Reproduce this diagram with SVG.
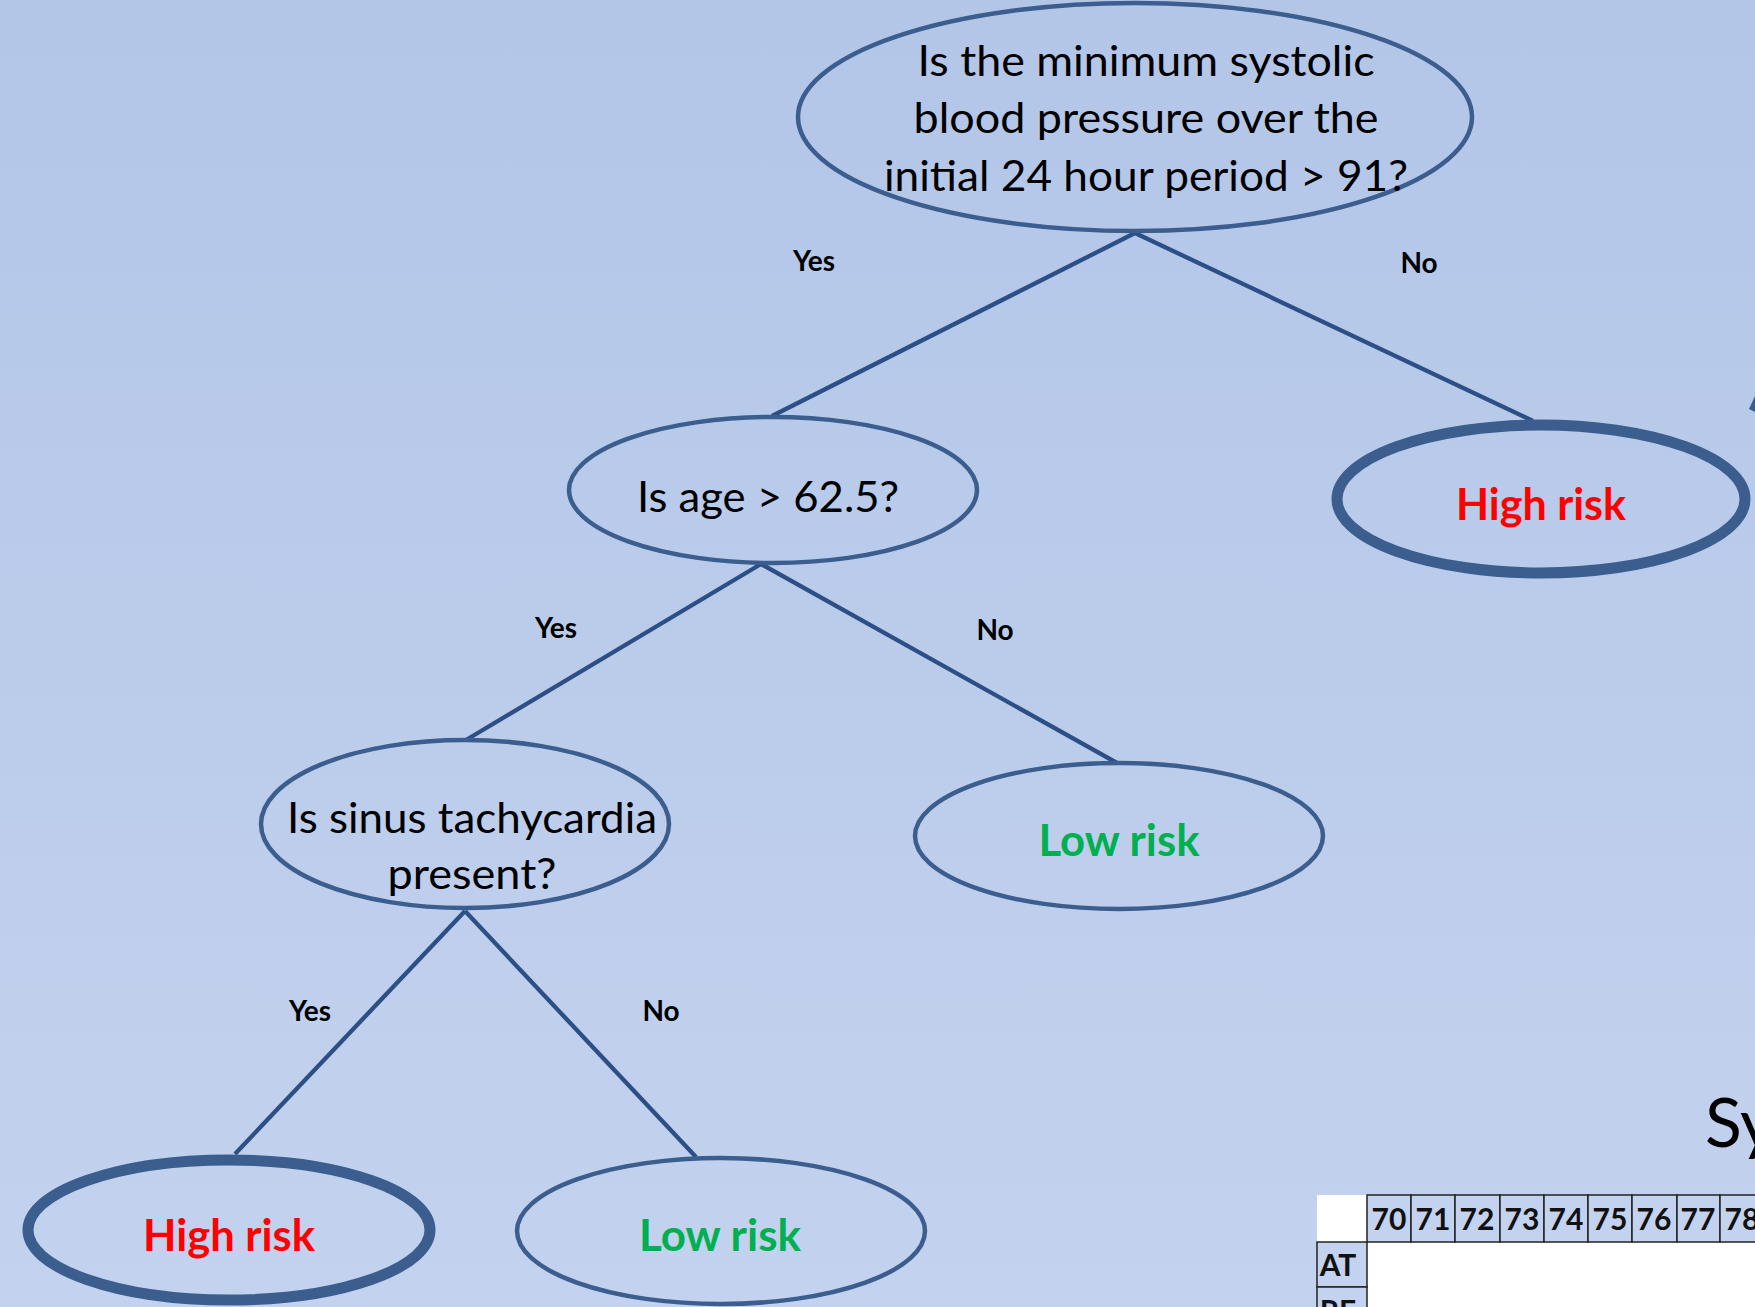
<svg xmlns="http://www.w3.org/2000/svg" width="1755" height="1307" viewBox="0 0 1755 1307">
<defs>
<linearGradient id="bg" x1="0" y1="0" x2="0" y2="1">
<stop offset="0" stop-color="#b3c6e8"/>
<stop offset="1" stop-color="#c3d2ee"/>
</linearGradient>
<style>
.node{fill:none;stroke:#3b5e8e;stroke-width:4.5}
.thick{fill:none;stroke:#3b5e8e;stroke-width:11}
.q{font-family:Lato,"Open Sans",sans-serif;font-size:43px;fill:#000;text-anchor:middle}
.hi{font-family:Lato,"Open Sans",sans-serif;font-size:44px;font-weight:bold;fill:#ff0000;text-anchor:middle}
.lo{font-family:Lato,"Open Sans",sans-serif;font-size:44px;font-weight:bold;fill:#00b050;text-anchor:middle}
.lbl{font-family:Lato,"Open Sans",sans-serif;font-size:28px;font-weight:bold;fill:#000;text-anchor:middle}
.edge{stroke:#2c4f86;stroke-width:4.3;fill:none}
.cell{fill:#c3d2ee;stroke:#222;stroke-width:1.5}
.num{font-family:Lato,"Open Sans",sans-serif;font-size:30px;font-weight:bold;fill:#111;text-anchor:middle}
</style>
</defs>
<rect x="0" y="0" width="1755" height="1307" fill="url(#bg)"/>

<g id="connectors">
<line class="edge" x1="1135" y1="233" x2="772" y2="416"/>
<line class="edge" x1="1135" y1="233" x2="1533" y2="421"/>
<line class="edge" x1="761" y1="564" x2="466" y2="740"/>
<line class="edge" x1="761" y1="564" x2="1117" y2="763"/>
<line class="edge" x1="465" y1="911" x2="235" y2="1154"/>
<line class="edge" x1="465" y1="911" x2="696" y2="1157"/>
<text class="lbl" x="814" y="271">Yes</text>
<text class="lbl" x="1419" y="273">No</text>
<text class="lbl" x="556" y="638">Yes</text>
<text class="lbl" x="995" y="640">No</text>
<text class="lbl" x="310" y="1021">Yes</text>
<text class="lbl" x="661" y="1021">No</text>
</g>

<g id="n_root">
<ellipse class="node" cx="1135" cy="117" rx="337" ry="114"/>
<text class="q" x="1146" y="76" textLength="457" lengthAdjust="spacingAndGlyphs">Is the minimum systolic</text>
<text class="q" x="1146" y="133" textLength="465" lengthAdjust="spacingAndGlyphs">blood pressure over the</text>
<text class="q" x="1146" y="191" textLength="524" lengthAdjust="spacingAndGlyphs">initial 24 hour period &gt; 91?</text>
</g>

<g id="n_age">
<ellipse class="node" cx="773" cy="490" rx="204" ry="73"/>
<text class="q" x="768" y="512" textLength="262" lengthAdjust="spacingAndGlyphs">Is age &gt; 62.5?</text>
</g>

<g id="n_high1">
<ellipse class="thick" cx="1541" cy="499" rx="204" ry="74"/>
<text class="hi" x="1541" y="520" textLength="170" lengthAdjust="spacingAndGlyphs">High risk</text>
</g>

<g id="n_sinus">
<ellipse class="node" cx="465" cy="824" rx="204" ry="84"/>
<text class="q" x="472" y="833" textLength="370" lengthAdjust="spacingAndGlyphs">Is sinus tachycardia</text>
<text class="q" x="472" y="889" textLength="169" lengthAdjust="spacingAndGlyphs">present?</text>
</g>

<g id="n_low1">
<ellipse class="node" cx="1119" cy="836" rx="204" ry="73"/>
<text class="lo" x="1119" y="856" textLength="161" lengthAdjust="spacingAndGlyphs">Low risk</text>
</g>

<g id="n_high2">
<ellipse class="thick" cx="229" cy="1230" rx="201" ry="70"/>
<text class="hi" x="229" y="1251" textLength="172" lengthAdjust="spacingAndGlyphs">High risk</text>
</g>

<g id="n_low2">
<ellipse class="node" cx="721" cy="1231" rx="204" ry="73"/>
<text class="lo" x="720" y="1251" textLength="162" lengthAdjust="spacingAndGlyphs">Low risk</text>
</g>

<polygon points="1749,409 1755,396 1755,412" fill="#3b5e8e"/>

<g id="table">
<text x="1705" y="1147" font-family="Lato,'Open Sans',sans-serif" font-size="68" fill="#000">Sy</text>
<rect x="1317" y="1195" width="50" height="47" fill="#ffffff"/>
<rect x="1367" y="1242" width="400" height="70" fill="#ffffff"/>
<g>
<rect class="cell" x="1367" y="1195" width="44" height="47"/>
<rect class="cell" x="1411" y="1195" width="44" height="47"/>
<rect class="cell" x="1455" y="1195" width="45" height="47"/>
<rect class="cell" x="1500" y="1195" width="44" height="47"/>
<rect class="cell" x="1544" y="1195" width="44" height="47"/>
<rect class="cell" x="1588" y="1195" width="44" height="47"/>
<rect class="cell" x="1632" y="1195" width="45" height="47"/>
<rect class="cell" x="1677" y="1195" width="43" height="47"/>
<rect class="cell" x="1720" y="1195" width="45" height="47"/>
<rect class="cell" x="1317" y="1242" width="50" height="45"/>
<rect class="cell" x="1317" y="1287" width="50" height="45"/>
</g>
<text class="num" x="1389" y="1230">70</text>
<text class="num" x="1433" y="1230">71</text>
<text class="num" x="1477" y="1230">72</text>
<text class="num" x="1522" y="1230">73</text>
<text class="num" x="1566" y="1230">74</text>
<text class="num" x="1610" y="1230">75</text>
<text class="num" x="1654" y="1230">76</text>
<text class="num" x="1698" y="1230">77</text>
<text class="num" x="1742" y="1230">78</text>
<text class="num" x="1338" y="1276">AT</text>
<text class="num" x="1338" y="1322">RE</text>
</g>
</svg>
